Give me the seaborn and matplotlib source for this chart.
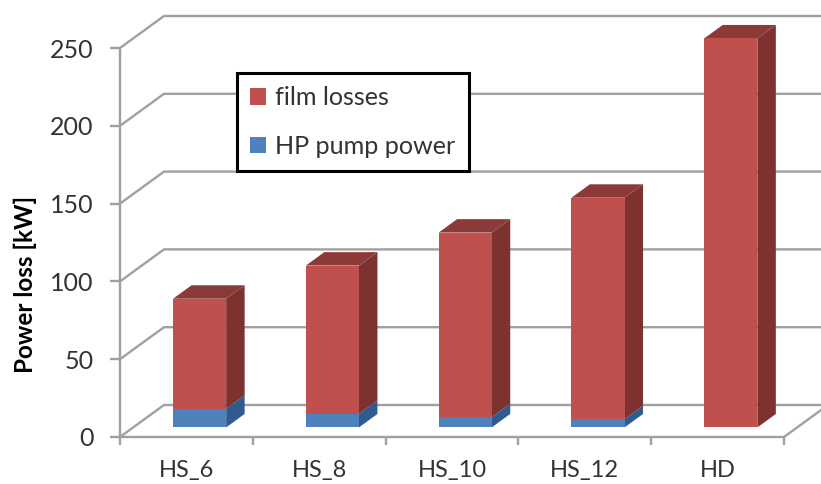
import numpy as np
import pandas as pd
import matplotlib
matplotlib.use("Agg")
import matplotlib.pyplot as plt
import seaborn as sns

# values
cases = ["HS_6", "HS_8", "HS_10", "HS_12", "HD"]
pump_power = [12.0, 8.7, 6.6, 5.3, 0.0]
film_losses = [70.7, 95.3, 118.6, 142.3, 250.0]
y_ticks = [0, 50, 100, 150, 200, 250]

RED, RED_SIDE, RED_TOP = "#C0504D", "#7D3230", "#8C3A37"
BLUE, BLUE_SIDE = "#4F81BD", "#2F5B8E"
GREY = "#A0A0A0"

sns.set_style("white")
plt.rcParams["font.family"] = ["Lato", "DejaVu Sans"]

W, H = 821, 484
fig = plt.figure(figsize=(W / 100, H / 100), dpi=100)
ax = fig.add_axes([120 / W, (H - 437) / H, 664 / W, 389 / H])

# fake 3D depth, in data units (1 category wide, 1 kW high)
WALL_X, WALL_Y = 44 / 132.8, 32 / 1.556


def depth(x, y, d):
    return x + WALL_X * d, y + WALL_Y * d


df = pd.DataFrame({"case": cases, "pump": pump_power, "film": film_losses})
df["total"] = df["pump"] + df["film"]

sns.barplot(data=df, x="case", y="total", color=RED, saturation=1, width=0.4,
            label="film losses", zorder=4, linewidth=0, clip_on=False, ax=ax)
sns.barplot(data=df, x="case", y="pump", color=BLUE, saturation=1, width=0.4,
            label="HP pump power", zorder=5, linewidth=0, clip_on=False, ax=ax)

# move the bar fronts back onto the floor
bar_front = 0.30
bar_back = 0.72
for patch in ax.patches:
    patch.set_x(patch.get_x() + WALL_X * bar_front)
    patch.set_y(patch.get_y() + WALL_Y * bar_front)

# sides and tops of the bars
for i, row in df.iterrows():
    x0 = i - 0.2
    x1 = i + 0.2
    levels = [(0, row["pump"], BLUE_SIDE), (row["pump"], row["total"], RED_SIDE)]
    for lo, hi, colour in levels:
        if hi <= lo:
            continue
        corners = [depth(x1, lo, bar_front), depth(x1, lo, bar_back),
                   depth(x1, hi, bar_back), depth(x1, hi, bar_front)]
        ax.fill(*zip(*corners), color=colour, lw=0, zorder=3, clip_on=False)
    top = row["total"]
    corners = [depth(x0, top, bar_front), depth(x1, top, bar_front),
               depth(x1, top, bar_back), depth(x0, top, bar_back)]
    ax.fill(*zip(*corners), color=RED_TOP, lw=0, zorder=3, clip_on=False)

# walls: each gridline runs back from the axis, then along the back wall
for t in y_ticks:
    bx, by = depth(-0.5, t, 1)
    ex = 4.5 + 44 / 132.8 + 0.2
    ax.plot([-0.5, bx, ex], [t, by, by], color=GREY, lw=1.7, zorder=1,
            clip_on=False, solid_joinstyle="miter")
fx, fy = depth(4.5, 0, 1)
ax.plot([4.5, fx], [0, fy], color=GREY, lw=1.7, zorder=1, clip_on=False)

ax.set_xlim(-0.5, 4.5)
ax.set_ylim(0, 250)
ax.set_yticks(y_ticks)
ax.set_xticks(np.arange(-0.5, 5, 1), minor=True)
ax.set_xlabel("")
ax.set_ylabel("Power loss [kW]", fontsize=17.5, fontweight="bold", color="black")
ax.yaxis.set_label_coords(-0.125, 0.393)
ax.patch.set_alpha(0)

for side in ["top", "right"]:
    ax.spines[side].set_visible(False)
for side in ["left", "bottom"]:
    ax.spines[side].set_color(GREY)
    ax.spines[side].set_linewidth(1.7)

ax.tick_params(axis="y", left=True, length=7, width=1.7, color=GREY,
               labelsize=18, labelcolor="#333333", pad=12)
ax.tick_params(axis="x", which="major", bottom=False, labelsize=17,
               labelcolor="#333333", pad=13)
ax.tick_params(axis="x", which="minor", bottom=True, length=6, width=1.7, color=GREY)

leg = ax.legend(loc="upper left", bbox_to_anchor=(237 / W, (H - 73) / H),
                bbox_transform=fig.transFigure, frameon=True, fancybox=False,
                framealpha=1, edgecolor="black", fontsize=18.1, labelspacing=1.02,
                handlelength=0.64, handleheight=0.64, handletextpad=0.35,
                borderpad=0.53, borderaxespad=0, labelcolor="#333333")
leg.get_frame().set_linewidth(2.2)
leg.set_zorder(10)

fig.savefig("out.png", dpi=100)
